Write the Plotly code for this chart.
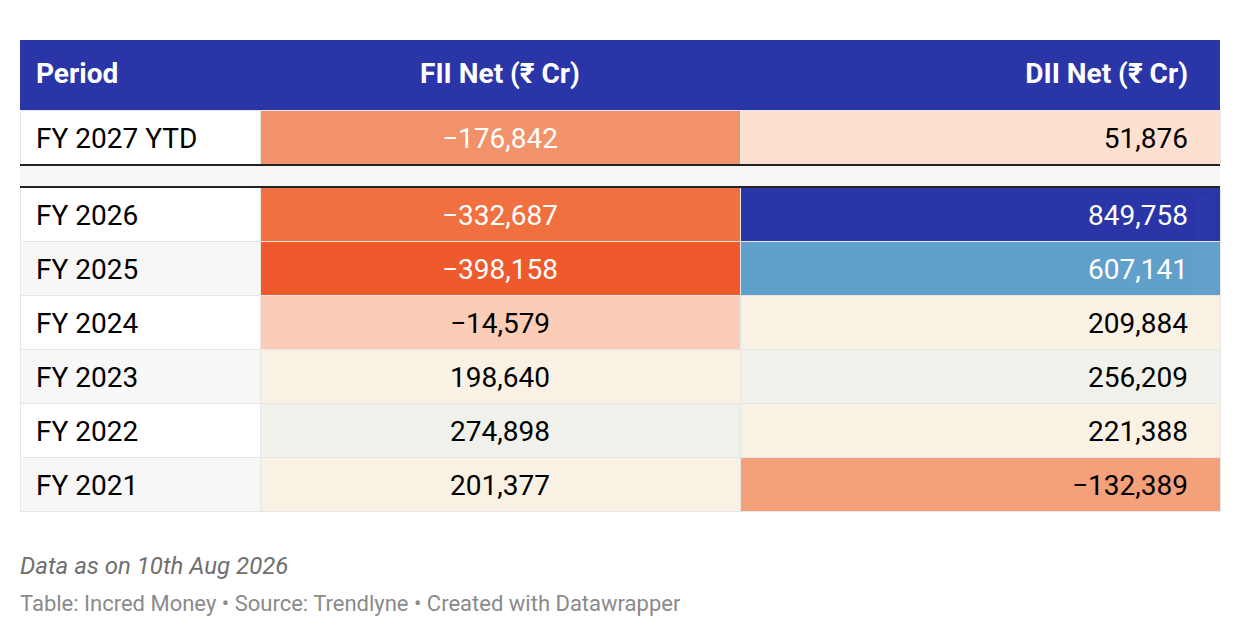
import plotly.graph_objects as go

periods = ["FY 2027 YTD", "FY 2026", "FY 2025", "FY 2024", "FY 2023", "FY 2022", "FY 2021"]
fii = [-176842, -332687, -398158, -14579, 198640, 274898, 201377]
dii = [51876, 849758, 607141, 209884, 256209, 221388, -132389]
fii_fill = ["#f2926a", "#f07040", "#ef5a2c", "#fbcdb6", "#f9f1e4", "#eff1ea", "#f9f1e4"]
dii_fill = ["#fde0d0", "#2a36a8", "#62a0cc", "#f9f1e4", "#f0f1ea", "#f9f1e4", "#f4a07b"]
fii_font = ["white", "white", "white", "black", "black", "black", "black"]
dii_font = ["black", "white", "white", "black", "black", "black", "black"]
headers = ["<b>Period</b>", "<b>FII Net (₹ Cr)</b>", "<b>DII Net (₹ Cr)</b>"]

W, H = 1240, 636
x0, x1 = 20 / W, 1220 / W
tx0, tx1 = 28 / W, 1196 / W  # text area, inset like the cell padding
TXT = 9
FS = 28
CLEAR = "rgba(0,0,0,0)"


def fmt(v):
    s = f"{abs(v):,}"
    return ("−" + s) if v < 0 else s


def rows(i0, i1):
    return [periods[i0:i1], [fmt(v) for v in fii[i0:i1]], [fmt(v) for v in dii[i0:i1]]]


def blanks(i0, i1):
    return [[""] * (i1 - i0)] * 3


period_fill = ["white" if i % 2 == 0 else "#f7f7f7" for i in range(len(periods) - 1)]
aligns = ["left", "center", "right"]
fig = go.Figure()

# background tables (fills and grid)
fig.add_trace(go.Table(
    domain=dict(x=[x0, x1], y=[1 - 166 / H, 1 - 40 / H]), columnwidth=[240, 480, 480],
    header=dict(values=["", "", ""], fill_color="#2a36a8", height=70, line=dict(color="#2a36a8", width=0)),
    cells=dict(values=blanks(0, 1), height=54,
               fill_color=[["white"], fii_fill[:1], dii_fill[:1]], line=dict(color="#e6e6e6", width=1)),
))
fig.add_trace(go.Table(
    domain=dict(x=[x0, x1], y=[1 - 520 / H, 1 - 187 / H]), columnwidth=[240, 480, 480],
    header=dict(values=["", "", ""], height=0, fill_color="white", line=dict(width=0)),
    cells=dict(values=blanks(1, 7), height=54,
               fill_color=[period_fill, fii_fill[1:], dii_fill[1:]], line=dict(color="#e6e6e6", width=1)),
))

# text tables, transparent, shifted down
fig.add_trace(go.Table(
    domain=dict(x=[tx0, tx1], y=[1 - (166 + TXT) / H, 1 - (40 + TXT) / H]), columnwidth=[232, 480, 456],
    header=dict(values=headers, fill_color=CLEAR, height=70, align=aligns, line=dict(width=0),
                font=dict(family="Roboto", size=FS, color="white")),
    cells=dict(values=rows(0, 1), height=54, align=aligns, fill_color=CLEAR, line=dict(width=0),
               font=dict(family="Roboto", size=FS, color=[["black"], fii_font[:1], dii_font[:1]])),
))
fig.add_trace(go.Table(
    domain=dict(x=[tx0, tx1], y=[1 - (520 + TXT) / H, 1 - (187 + TXT) / H]), columnwidth=[232, 480, 456],
    header=dict(values=["", "", ""], height=0, fill_color=CLEAR, line=dict(width=0)),
    cells=dict(values=rows(1, 7), height=54, align=aligns, fill_color=CLEAR, line=dict(width=0),
               font=dict(family="Roboto", size=FS, color=[["black"] * 6, fii_font[1:], dii_font[1:]])),
))

fig.add_shape(type="rect", xref="paper", yref="paper", x0=x0, x1=x1,
              y0=1 - 187 / H, y1=1 - 165 / H, fillcolor="#f6f6f6", line=dict(width=0))
for yy in (165, 187):
    fig.add_shape(type="line", xref="paper", yref="paper", x0=x0, x1=x1,
                  y0=1 - yy / H, y1=1 - yy / H, line=dict(color="#222", width=2))

fig.add_annotation(xref="paper", yref="paper", x=18 / W, y=1 - 566 / H, xanchor="left", yanchor="middle",
                   text="<i>Data as on 10th Aug 2026</i>", showarrow=False,
                   font=dict(family="Roboto", size=24, color="#6f6f6f"))
fig.add_annotation(xref="paper", yref="paper", x=18 / W, y=1 - 603 / H, xanchor="left", yanchor="middle",
                   text="Table: Incred Money • Source: Trendlyne • Created with Datawrapper", showarrow=False,
                   font=dict(family="Roboto", size=22, color="#8a8a8a"))

fig.update_layout(width=W, height=H, margin=dict(l=0, r=0, t=0, b=0),
                  paper_bgcolor="white", plot_bgcolor="white")
fig.write_html("out.html", config={"displayModeBar": False},
               post_script="document.body.style.margin='0';")
